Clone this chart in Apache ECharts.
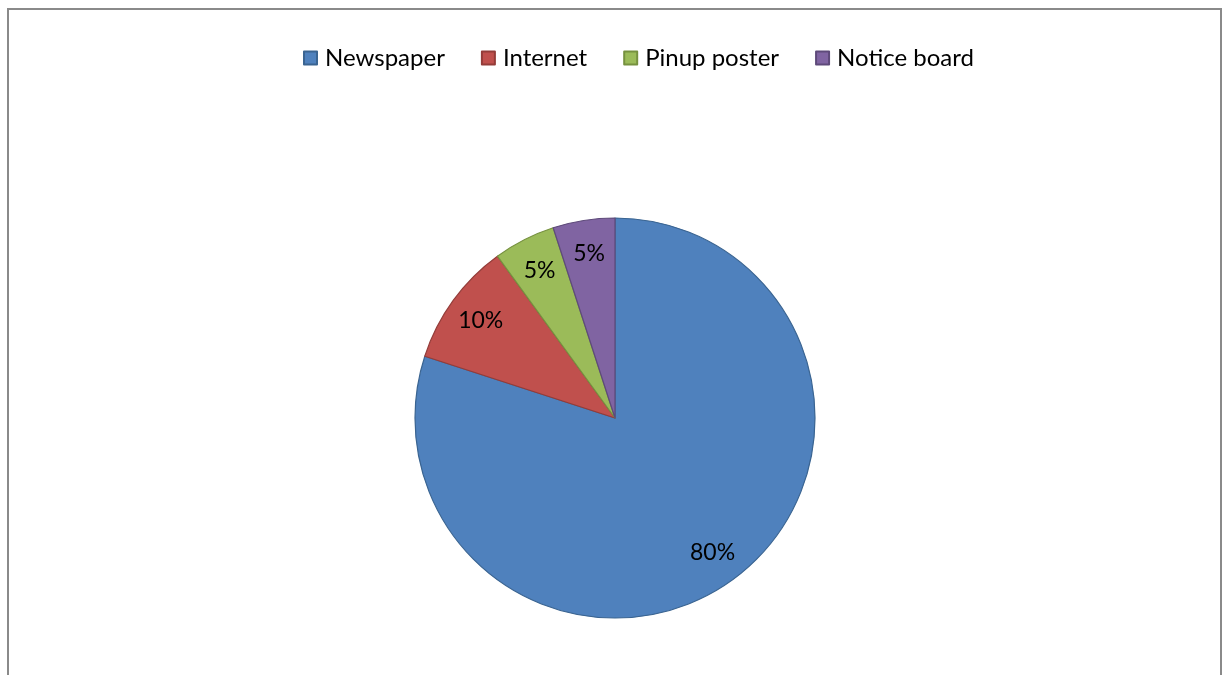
<!DOCTYPE html>
<html>
<head>
<meta charset="utf-8">
<script src="https://cdn.jsdelivr.net/npm/echarts@6/dist/echarts.min.js"></script>
<style>html,body{margin:0;padding:0;background:#fff;}#c{width:1229px;height:675px;}</style>
</head>
<body>
<div id="c"></div>
<script>
const categories = ['Newspaper', 'Internet', 'Pinup poster', 'Notice board'];
const values = [80, 10, 5, 5];
const colors = ['#4F81BD', '#C0504D', '#9BBB59', '#8064A2'];
const borders = ['#3A6491', '#943C39', '#76913F', '#5E4A7A'];

const chart = echarts.init(document.getElementById('c'), null, {renderer: 'canvas'});
const FONT = 'Lato';
const mainData = categories.map((n, i) => ({
  name: n, value: values[i],
  itemStyle: {color: colors[i], borderColor: borders[i], borderWidth: 1.2}
}));
const labelData = categories.map((n, i) => ({name: n, value: values[i]}));
chart.setOption({
  animation: false,
  graphic: [{
    type: 'rect', silent: true,
    shape: {x: 8, y: 9, width: 1213, height: 700},
    style: {fill: 'none', stroke: '#8A8A8A', lineWidth: 2}
  }],
  legend: {
    data: categories,
    top: 41, left: 298,
    itemWidth: 13, itemHeight: 13, itemGap: 36,
    icon: 'rect',
    textStyle: {fontFamily: FONT, fontSize: 24, color: '#000', padding: [0, 0, 0, 3]}
  },
  series: [{
    type: 'pie',
    center: [615, 418], radius: [0, 200],
    startAngle: 90, clockwise: true,
    label: {show: false}, labelLine: {show: false},
    emphasis: {disabled: true},
    data: mainData
  }, {
    type: 'pie', silent: true,
    center: [615, 418], radius: [126, 200],
    startAngle: 90, clockwise: true,
    itemStyle: {color: 'rgba(0,0,0,0)', borderWidth: 0},
    label: {show: true, position: 'inside', formatter: '{c}%', fontFamily: FONT, fontSize: 23, color: '#000'},
    labelLine: {show: false},
    emphasis: {disabled: true},
    data: labelData
  }]
});
</script>
</body>
</html>
